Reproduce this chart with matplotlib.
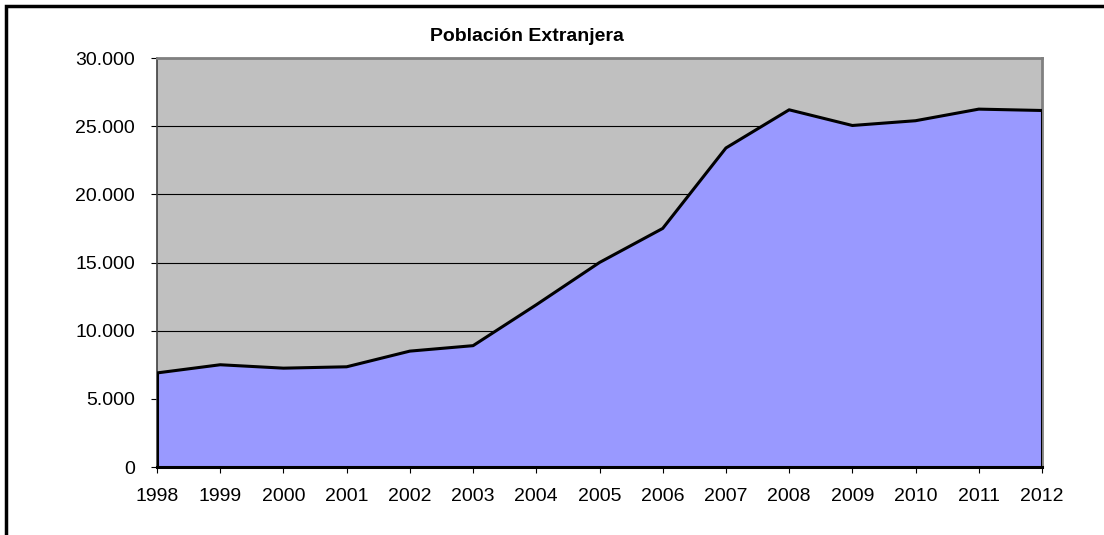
import matplotlib.pyplot as plt
import matplotlib.patches as patches
from matplotlib.ticker import FuncFormatter
from matplotlib import font_manager

years = [1998, 1999, 2000, 2001, 2002, 2003, 2004, 2005, 2006, 2007, 2008, 2009, 2010, 2011, 2012]
poblacion = [6900, 7500, 7250, 7350, 8500, 8900, 11900, 15000, 17500, 23400, 26200, 25050, 25400, 26250, 26150]

names = {f.name for f in font_manager.fontManager.ttflist}
fam = 'Liberation Sans Narrow' if 'Liberation Sans Narrow' in names else 'Liberation Sans'
plt.rcParams['font.family'] = [fam, 'DejaVu Sans']

fig = plt.figure(figsize=(11.04, 5.35), dpi=100)
ax = fig.add_axes([157/1104, 1 - 467/535, (1042 - 157)/1104, (467 - 58)/535])

ax.set_facecolor('#C0C0C0')
ax.fill_between(years, poblacion, 0, color='#9999FF', zorder=2)
ax.plot(years, poblacion, color='black', lw=2.2, zorder=3)
ax.plot([years[0], years[0]], [0, poblacion[0]], color='black', lw=2.2, zorder=3)
ax.plot([years[-1], years[-1]], [0, poblacion[-1]], color='black', lw=2.2, zorder=3)

ax.set_xlim(years[0], years[-1])
ax.set_ylim(0, 30000)
ax.set_yticks(range(0, 30001, 5000))
ax.set_xticks(years)
ax.yaxis.set_major_formatter(FuncFormatter(lambda v, p: f'{int(v):,}'.replace(',', '.')))
ax.grid(axis='y', color='black', lw=0.8, zorder=1)
ax.set_axisbelow(True)

for s in ['top', 'right']:
    ax.spines[s].set_color('#808080')
    ax.spines[s].set_linewidth(2)
ax.spines['left'].set_color('#404040')
ax.spines['left'].set_linewidth(1.2)
ax.spines['bottom'].set_color('black')
ax.spines['bottom'].set_linewidth(2.2)
ax.spines['bottom'].set_zorder(4)

ax.tick_params(axis='both', labelsize=14, color='black', length=4, direction='out')
ax.tick_params(axis='y', pad=12)
ax.tick_params(axis='x', pad=11)

fig.text(527/1104, 1 - 37/535, 'Población Extranjera', ha='center', va='center',
         fontsize=14, fontweight='bold')

fig.patches.append(patches.Rectangle((6/1104, -0.05), 1.1, 1 - 6/535 + 0.05,
                                     transform=fig.transFigure, fill=False,
                                     edgecolor='black', lw=2.5))

fig.savefig('out.png', dpi=100)
